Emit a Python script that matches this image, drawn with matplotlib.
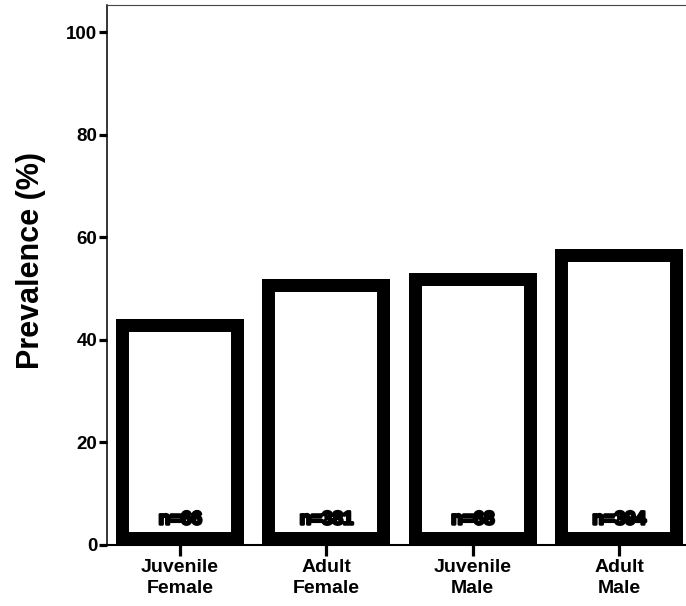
import numpy as np
import matplotlib
matplotlib.use('Agg')
from matplotlib import pyplot as plt
from matplotlib import patheffects as pe

categories = ['Juvenile\nFemale', 'Adult\nFemale', 'Juvenile\nMale', 'Adult\nMale']
prevalence = [44.0, 51.8, 53.0, 57.8]
sample_sizes = ['n=66', 'n=381', 'n=68', 'n=394']
y_ticks = [0, 20, 40, 60, 80, 100]

plt.rcParams['font.family'] = ['Liberation Sans', 'DejaVu Sans']
plt.rcParams['font.weight'] = 'bold'

fig = plt.figure(figsize=(6.86, 6.06), dpi=100)
ax = fig.add_axes([0.156, 0.1007, 0.844, 0.891])

x = np.arange(len(categories))
bars = ax.bar(x, prevalence, width=0.875, color='white', edgecolor='black',
              linewidth=18.7, zorder=2)
# keep the border inside each bar (stroke clipped to the bar itself)
for b in bars:
    b.set_clip_path(b)

for xi, label in zip(x, sample_sizes):
    ax.text(xi, 4.9, label, ha='center', va='center', fontsize=13.5,
            fontweight='bold', color='black', zorder=3,
            path_effects=[pe.withStroke(linewidth=2, foreground='black')])

ax.set_xlim(-0.5, 3.458)
ax.set_ylim(0, 105.3)
ax.set_xticks(x)
ax.set_xticklabels(categories, fontsize=14, fontweight='bold', linespacing=1.3)
ax.set_yticks(y_ticks)
ax.set_yticklabels([str(t) for t in y_ticks], fontsize=13.5, fontweight='bold')

ax.tick_params(axis='y', direction='out', length=6, width=2.3, pad=1)
ax.tick_params(axis='x', direction='out', length=8, width=2.3, pad=2)

ax.spines['right'].set_visible(False)
ax.spines['top'].set_color('#444444')
ax.spines['top'].set_linewidth(0.8)
ax.spines['left'].set_linewidth(1.1)
ax.spines['bottom'].set_linewidth(1.5)

ax.set_ylabel('Prevalence (%)', fontsize=22, fontweight='bold')
ax.yaxis.set_label_coords(-0.105, 0.526)

fig.savefig('out.png', dpi=100)
